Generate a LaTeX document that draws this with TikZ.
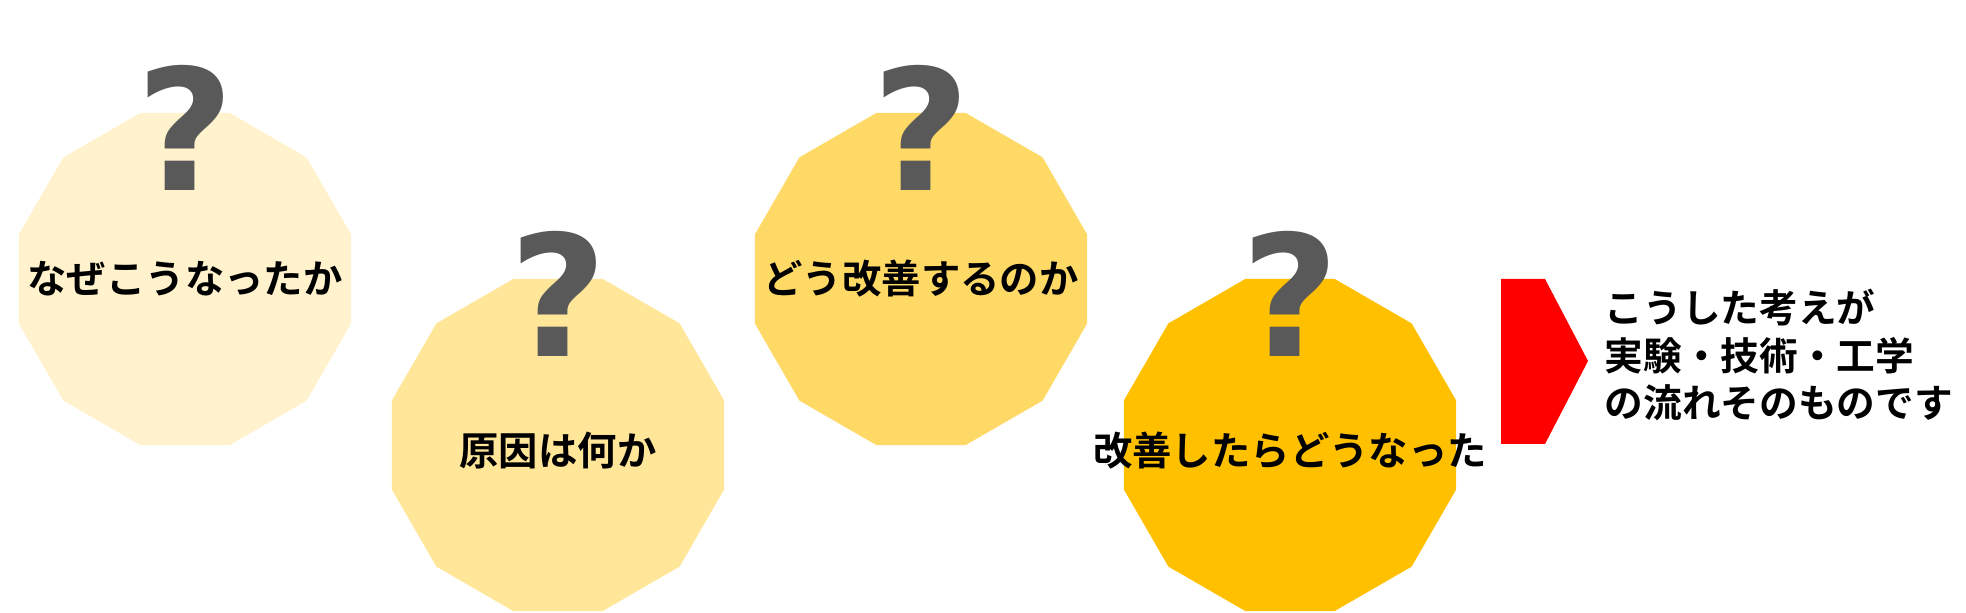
\documentclass[tikz,border=0pt]{standalone}
\usepackage{fontspec}
\usepackage{tikz}
\usetikzlibrary{shapes.geometric}

\newfontfamily\jpfont{Noto Sans CJK JP}[BoldFont={Noto Sans CJK JP Bold}]
\newfontfamily\qfont{DejaVu Sans}
\definecolor{lvone}{HTML}{FFF2CC}
\definecolor{lvtwo}{HTML}{FFE699}
\definecolor{lvthree}{HTML}{FFD966}
\definecolor{lvfour}{HTML}{FFC000}
\definecolor{qgray}{HTML}{595959}

\begin{document}
\begin{tikzpicture}[
    dodeca/.style={regular polygon, regular polygon sides=12, minimum size=3.44cm, inner sep=0pt, outer sep=0pt},
    qmark/.style={anchor=base, text=qgray, inner sep=0pt, font={\qfont\bfseries\fontsize{48}{48}\selectfont}},
    qtext/.style={inner sep=0pt, font={\jpfont\bfseries\fontsize{11.2}{13}\selectfont}}]
    \useasboundingbox (0,0) rectangle (19.66,6.12);
    % four questions, stepping up and down
    \foreach \n/\x/\y/\c/\s/\t in {why/1.85/3.33/lvone/0/なぜこうなったか,
        cause/5.58/1.67/lvtwo/-0.06/原因は何か,
        how/9.21/3.33/lvthree/0/どう改善するのか,
        result/12.90/1.67/lvfour/-0.06/改善したらどうなった}{
        \node[dodeca, fill=\c] (\n) at (\x,\y) {};
        \node[qmark] (\n-q) at ([yshift=0.88cm]\n.center) {?};
        \node[qtext] (\n-t) at ([yshift=\s cm]\n.center) {\t};
    }
    % red arrow and conclusion
    \fill[red] (15.01,3.33) -- (15.45,3.33) -- (15.88,2.51) -- (15.45,1.68) -- (15.01,1.68) -- cycle;
    \node[anchor=west, align=left, inner sep=0pt, font={\jpfont\bfseries\fontsize{11}{13.4}\selectfont}] (sum) at (16.04,2.57) {
        こうした考えが\\
        実験・技術・工学\\
        の流れそのものです};
\end{tikzpicture}
\end{document}
